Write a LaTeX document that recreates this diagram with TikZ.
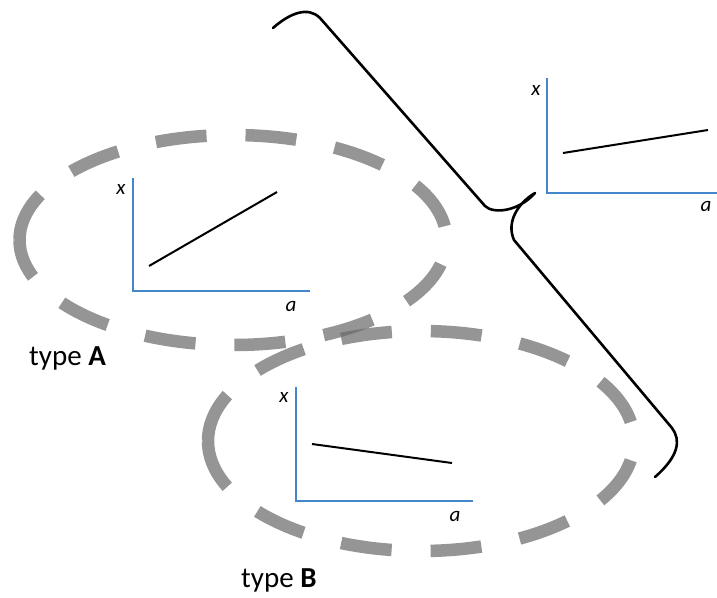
\documentclass[tikz,border=0pt]{standalone}
\usepackage{fontspec}
\setmainfont{Carlito}
\begin{document}
\begin{tikzpicture}[x=1pt,y=-1pt,
  axisline/.style={draw={rgb,255:red,68;green,134;blue,203}, line width=2.6pt},
  trend/.style={draw=black, line width=2pt},
  loopline/.style={draw={rgb,255:red,105;green,105;blue,105}, draw opacity=0.7,
    line width=12.5pt, dash pattern=on 51pt off 39pt},
  axlbl/.style={font=\fontsize{21}{23}\selectfont\itshape, inner sep=0pt},
  typelbl/.style={font=\fontsize{29}{33}\selectfont, inner sep=0pt, anchor=base west},
  bracestroke/.style={draw=black, line width=2.6pt, line cap=round, line join=round},
]
\useasboundingbox (0,0) rectangle (717,597);
\fill[white] (0,0) rectangle (717,597);

% dashed loops around the two groups, each traced from its left end over the top
\draw[loopline] (19.5,240) arc[start angle=180, end angle=540, x radius=213.5, y radius=105];
\draw[loopline] (208,441) arc[start angle=180, end angle=540, x radius=213, y radius=110];

% plot of type A: rising line
\coordinate (oA) at (133,291);
\coordinate (yA) at (133,178);
\coordinate (xA) at (310,291);
\coordinate (pA1) at (149,266);
\coordinate (pA2) at (277,192);
\draw[axisline] (yA) -- (oA) -- (xA);
\draw[trend] (pA1) -- (pA2);
\node[axlbl] (xlabA) at (121,189) {x};
\node[axlbl] (alabA) at (291,306) {a};

% plot of type B: falling line
\coordinate (oB) at (296,501);
\coordinate (yB) at (296,387);
\coordinate (xB) at (473,501);
\coordinate (pB1) at (312,444);
\coordinate (pB2) at (452,463);
\draw[axisline] (yB) -- (oB) -- (xB);
\draw[trend] (pB1) -- (pB2);
\node[axlbl] (xlabB) at (284,397) {x};
\node[axlbl] (alabB) at (455,516) {a};

% combined plot: shallow rising line
\coordinate (oC) at (547,193);
\coordinate (yC) at (547,78);
\coordinate (xC) at (717,193);
\coordinate (pC1) at (563,153);
\coordinate (pC2) at (708,130);
\draw[axisline] (yC) -- (oC) -- (xC);
\draw[trend] (pC1) -- (pC2);
\node[axlbl] (xlabC) at (536,90) {x};
\node[axlbl] (alabC) at (706,206) {a};

% group labels
\node[typelbl] (typeA) at (29,365) {type \textbf{A}};
\node[typelbl] (typeB) at (241,587) {type \textbf{B}};

% large tilted brace
\draw[bracestroke] (273,28) .. controls (290,13) and (308,6) .. (320,18)
  -- (485,206) .. controls (493,214) and (518,212) .. (535,193)
  .. controls (518,203) and (506,222) .. (514,240)
  -- (672,428) .. controls (681,440) and (679,456) .. (655,477);
\end{tikzpicture}
\end{document}
